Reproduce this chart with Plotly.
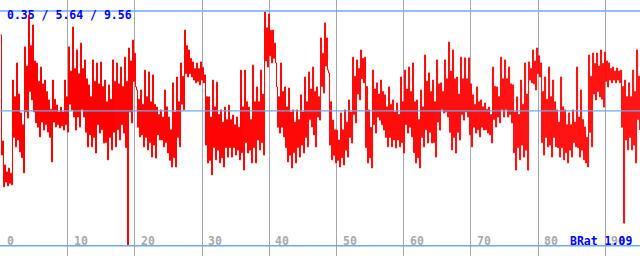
import numpy as np
import plotly.graph_objects as go

# Summary statistics shown in the header (min / mean / max) and drawn as reference lines
stats = [0.35, 5.64, 9.56]
ratio_label = "BRat 1.09"

# x-axis tick labels
tick_values = [0, 10, 20, 30, 40, 50, 60, 70, 80, 90]

# Series values, roughly one sample per pixel column
values = [
    # 0 - 10
    8.62, 3.91, 4.46, 2.66,  3.52, 2.85, 3.25, 2.70,  3.40, 2.80, 3.20, 2.74,  6.85, 4.60, 6.20, 4.23,
    7.52, 4.50, 6.30, 4.03,  5.56, 3.80, 5.10, 3.21,  8.15, 5.60, 7.40, 5.36,  9.40, 6.40, 8.20, 6.07,
    9.01, 5.60, 7.60, 5.17,  7.52, 5.00, 6.80, 4.62,  7.36, 5.20, 6.70, 4.89,  6.85, 5.10, 6.40, 4.81,
    6.07, 4.60, 5.70, 3.64,  6.85, 5.20, 6.10, 5.01,  5.87, 5.10, 5.60, 4.97,  5.79, 5.05, 5.60, 4.89,
    # 10 - 19
    6.85, 5.10, 6.20, 4.81,  8.15, 5.90, 7.20, 5.68,  8.93, 5.40, 7.30, 4.89,  8.03, 5.40, 7.10, 5.01,
    8.30, 5.70, 7.30, 5.40,  7.64, 4.80, 6.90, 4.23,  6.66, 4.70, 6.20, 4.23,  7.64, 4.60, 6.80, 3.99,
    7.52, 5.10, 6.70, 4.77,  7.56, 4.90, 6.60, 4.38,  6.85, 4.40, 6.00, 3.72,  6.66, 4.60, 6.10, 4.11,
    7.64, 4.80, 6.80, 4.23,  7.52, 4.90, 6.70, 4.50,  7.36, 5.10, 6.60, 4.77,  7.75, 4.20, 6.80, 0.35,
    # 19 - 29
    8.11, 5.60, 7.60, 5.17,  8.42, 6.80, 7.90, 6.58,  6.46, 5.00, 6.10, 4.62,  6.46, 4.70, 5.90, 4.23,
    7.24, 4.60, 6.20, 4.11,  7.17, 4.40, 6.00, 3.83,  7.05, 4.30, 5.90, 3.79,  5.79, 4.70, 5.50, 4.50,
    5.68, 4.50, 5.40, 4.23,  6.46, 4.40, 5.80, 3.99,  5.40, 3.70, 4.90, 3.44,  6.74, 3.80, 5.60, 3.44,
    6.97, 4.60, 6.00, 4.23,  7.52, 5.90, 7.00, 5.68,  8.81, 7.10, 8.20, 6.97,  8.03, 7.10, 7.70, 6.97,
    # 29 - 38
    7.56, 6.85, 7.30, 6.74,  7.52, 6.80, 7.30, 6.66,  7.56, 6.85, 7.35, 6.74,  7.05, 4.30, 6.20, 3.60,
    6.19, 3.70, 5.40, 3.13,  6.85, 4.20, 5.80, 3.72,  6.77, 4.10, 5.50, 3.60,  5.68, 3.80, 5.20, 3.44,
    5.79, 4.20, 5.30, 3.83,  5.87, 4.20, 5.30, 3.83,  5.48, 4.20, 5.10, 3.91,  5.40, 4.10, 5.00, 3.72,
    7.24, 4.00, 5.80, 3.32,  7.24, 4.40, 6.00, 3.99,  5.79, 4.10, 5.30, 3.60,  7.44, 4.20, 6.00, 3.60,
    # 38 - 48
    6.58, 4.50, 6.00, 4.11,  7.24, 4.40, 6.30, 3.91,  9.52, 7.60, 8.90, 7.36,  9.44, 7.80, 8.80, 7.52,
    8.81, 7.70, 8.30, 7.52,  6.58, 5.00, 6.20, 4.77,  7.52, 5.00, 6.40, 4.62,  6.58, 4.20, 5.80, 3.64,
    6.54, 3.90, 5.60, 3.40,  5.68, 4.00, 5.20, 3.60,  5.68, 4.20, 5.30, 3.83,  6.27, 4.30, 5.60, 3.99,
    6.97, 4.60, 6.00, 4.23,  7.17, 5.30, 6.50, 5.01,  7.36, 4.70, 6.40, 4.23,  6.58, 5.40, 6.20, 5.28,
    # 48 - 57
    8.50, 6.60, 7.90, 6.34,  9.09, 7.40, 8.50, 7.24,  7.13, 4.30, 6.00, 3.72,  5.28, 3.90, 4.90, 3.60,
    4.89, 3.70, 4.50, 3.44,  5.56, 3.80, 4.90, 3.52,  5.68, 4.10, 5.20, 3.83,  6.07, 4.60, 5.60, 4.38,
    7.75, 5.50, 7.00, 5.17,  7.64, 6.30, 7.30, 6.07,  8.03, 6.90, 7.70, 6.74,  7.75, 4.20, 6.60, 3.60,
    5.68, 3.80, 5.00, 3.40,  7.24, 5.10, 6.50, 4.77,  6.74, 5.40, 6.30, 5.28,  6.85, 5.10, 6.40, 4.89,
    # 57 - 67
    6.27, 4.60, 5.80, 4.23,  6.58, 4.60, 5.90, 4.23,  6.07, 4.50, 5.60, 4.19,  5.95, 4.50, 5.50, 4.23,
    6.97, 4.40, 6.00, 3.99,  7.24, 5.10, 6.50, 4.77,  7.36, 5.00, 6.40, 4.62,  7.52, 4.00, 6.00, 3.60,
    6.07, 3.80, 5.30, 3.40,  6.46, 4.60, 5.80, 4.23,  7.83, 4.90, 6.80, 4.38,  7.13, 4.80, 6.40, 4.38,
    6.85, 4.40, 6.00, 3.83,  7.64, 5.20, 6.70, 4.89,  6.74, 5.70, 6.40, 5.56,  7.64, 5.60, 6.90, 5.40,
    # 67 - 76
    8.34, 4.80, 7.20, 4.11,  8.03, 4.60, 6.90, 3.99,  6.97, 4.80, 6.30, 4.50,  7.75, 5.50, 6.90, 5.28,
    7.72, 5.60, 6.90, 5.40,  7.72, 4.70, 6.70, 4.23,  6.27, 5.00, 5.90, 4.77,  6.58, 4.90, 6.00, 4.62,
    6.07, 5.00, 5.80, 4.89,  5.95, 4.90, 5.70, 4.77,  5.79, 4.70, 5.50, 4.38,  7.36, 5.30, 6.60, 5.01,
    6.58, 5.40, 6.20, 5.17,  7.75, 5.70, 6.90, 5.40,  7.64, 5.70, 6.90, 5.40,  7.36, 5.50, 6.70, 5.17,
    # 76 - 86
    6.66, 4.00, 5.60, 3.32,  6.19, 4.20, 5.50, 3.72,  6.85, 4.30, 5.90, 3.83,  7.52, 4.10, 6.30, 3.32,
    7.56, 6.85, 7.30, 6.74,  8.03, 6.70, 7.60, 6.46,  8.11, 7.10, 7.80, 6.97,  7.52, 4.40, 6.40, 3.91,
    6.97, 4.60, 6.10, 4.23,  7.36, 4.30, 6.20, 3.83,  6.85, 4.60, 6.00, 4.23,  5.68, 4.20, 5.20, 3.83,
    6.97, 4.20, 5.80, 3.72,  5.68, 4.00, 5.10, 3.60,  5.56, 4.10, 5.10, 3.83,  5.68, 4.40, 5.20, 4.23,
    # 86 - 95
    7.36, 4.20, 5.40, 3.83,  6.46, 4.10, 5.30, 3.72,  5.01, 3.60, 4.60, 3.44,  7.83, 4.80, 7.00, 4.23,
    7.91, 6.30, 7.50, 6.07,  7.91, 6.40, 7.40, 6.19,  8.03, 6.10, 7.50, 5.79,  7.95, 6.80, 7.60, 6.58,
    7.52, 6.85, 7.30, 6.74,  7.36, 6.85, 7.20, 6.74,  7.32, 6.85, 7.20, 6.74,  7.24, 5.00, 6.60, 1.24,
    6.85, 4.50, 6.20, 4.11,  6.74, 4.60, 6.20, 4.11,  7.24, 4.30, 6.40, 3.60,  8.03, 5.30, 7.00, 4.89,
]
t_start, t_end = 0.0, 95.1
t = np.linspace(t_start, t_end, len(values))

RED = "#ff0000"
GRID = "#a8a8a8"
REF = "#6aaaf0"
TXT = "#0000ff"
MONO = "DejaVu Sans Mono"

fig = go.Figure()
fig.add_trace(go.Scatter(x=t, y=values, mode="lines",
                         line=dict(color=RED, width=1, shape="hv", simplify=False),
                         hoverinfo="skip"))

for s in stats:
    fig.add_shape(type="line", xref="paper", yref="y", x0=0, x1=1, y0=s, y1=s,
                  line=dict(color=REF, width=1.4), layer="above")

for v in tick_values:
    fig.add_annotation(x=v, y=0.058, xref="x", yref="paper", text=str(v),
                       showarrow=False, xanchor="left", yanchor="middle", xshift=4,
                       font=dict(family=MONO, size=11.5, color="#aaaaaa", weight="bold"))

fig.add_annotation(x=0, y=0.941, xref="paper", yref="paper",
                   text=" / ".join(f"{s:.2f}" for s in stats),
                   showarrow=False, xanchor="left", yanchor="middle", xshift=5,
                   font=dict(family=MONO, size=11.5, color=TXT, weight="bold"))
fig.add_annotation(x=1, y=0.058, xref="paper", yref="paper", text=ratio_label,
                   showarrow=False, xanchor="right", yanchor="middle", xshift=-6,
                   font=dict(family=MONO, size=11.5, color=TXT, weight="bold"))

fig.update_layout(
    width=640, height=256, margin=dict(l=0, r=0, t=0, b=0),
    paper_bgcolor="white", plot_bgcolor="white", showlegend=False,
    xaxis=dict(range=[-0.074, 95.16], dtick=10, tick0=0, showgrid=True,
               gridcolor=GRID, gridwidth=1, zeroline=False, showticklabels=False,
               ticks="", showline=False, fixedrange=True),
    yaxis=dict(range=[-0.05, 9.99], showgrid=False, zeroline=False,
               showticklabels=False, ticks="", showline=False, fixedrange=True),
)
fig.write_html("out.html")
